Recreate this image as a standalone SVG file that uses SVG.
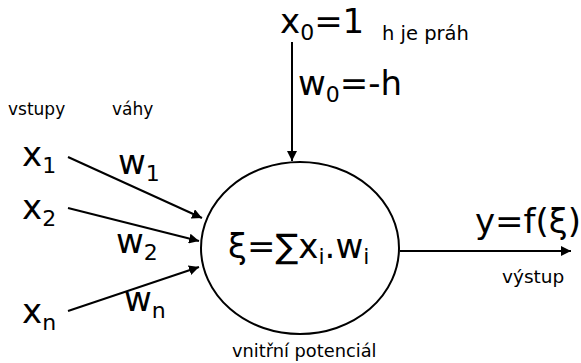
<svg xmlns="http://www.w3.org/2000/svg" width="581" height="363" viewBox="0 0 581 363">
<style>
.big{font-family:"DejaVu Sans",sans-serif;font-size:34px;fill:#000}
.sub{font-size:22px}
.sm{font-family:"DejaVu Sans",sans-serif;font-size:17px;fill:#000}
.ln{stroke:#000;stroke-width:2;fill:none}
</style>
<defs>
<marker id="ah" viewBox="0 0 10 10" refX="10" refY="5" markerWidth="5" markerHeight="5" orient="auto" markerUnits="strokeWidth"><path d="M0,0L10,5L0,10z" fill="#000"/></marker>
</defs>
<rect width="581" height="363" fill="#fff"/>
<g id="connectors">
<line class="ln" x1="292" y1="42" x2="292" y2="161" marker-end="url(#ah)"/>
<line class="ln" x1="68" y1="157" x2="202" y2="218" marker-end="url(#ah)"/>
<line class="ln" x1="68" y1="208" x2="199" y2="241" marker-end="url(#ah)"/>
<line class="ln" x1="68" y1="311" x2="199" y2="267" marker-end="url(#ah)"/>
<line class="ln" x1="400" y1="251" x2="571" y2="251" marker-end="url(#ah)"/>
</g>
<g id="neuron">
<ellipse class="ln" cx="300" cy="248" rx="99" ry="86"/>
<text class="big" x="228" y="258">ξ=∑x<tspan class="sub" dy="6">i</tspan><tspan dy="-6">.w</tspan><tspan class="sub" dy="6">i</tspan></text>
<text class="sm" x="232" y="357" style="font-size:17.8px">vnitřní potenciál</text>
</g>
<g id="bias">
<text class="big" x="280" y="33">x<tspan class="sub" dy="7">0</tspan><tspan dy="-7">=1</tspan></text>
<text class="sm" x="382" y="40" style="font-size:19.5px">h je práh</text>
<text class="big" x="298" y="95">w<tspan class="sub" dy="7">0</tspan><tspan dy="-7">=-h</tspan></text>
</g>
<g id="labels">
<text class="sm" x="8" y="115">vstupy</text>
<text class="sm" x="112" y="115">váhy</text>
</g>
<g id="x1"><text class="big" x="22" y="166">x<tspan class="sub" dy="7">1</tspan></text></g>
<g id="x2"><text class="big" x="22" y="219">x<tspan class="sub" dy="7">2</tspan></text></g>
<g id="xn"><text class="big" x="22" y="323">x<tspan class="sub" dy="7">n</tspan></text></g>
<g id="w1"><text class="big" x="118" y="174">w<tspan class="sub" dy="7">1</tspan></text></g>
<g id="w2"><text class="big" x="116" y="253">w<tspan class="sub" dy="7">2</tspan></text></g>
<g id="wn"><text class="big" x="124" y="311">w<tspan class="sub" dy="7">n</tspan></text></g>
<g id="output">
<text class="big" x="475" y="233">y=f(ξ)</text>
<text class="sm" x="502" y="283" style="font-size:18.5px">výstup</text>
</g>
</svg>
